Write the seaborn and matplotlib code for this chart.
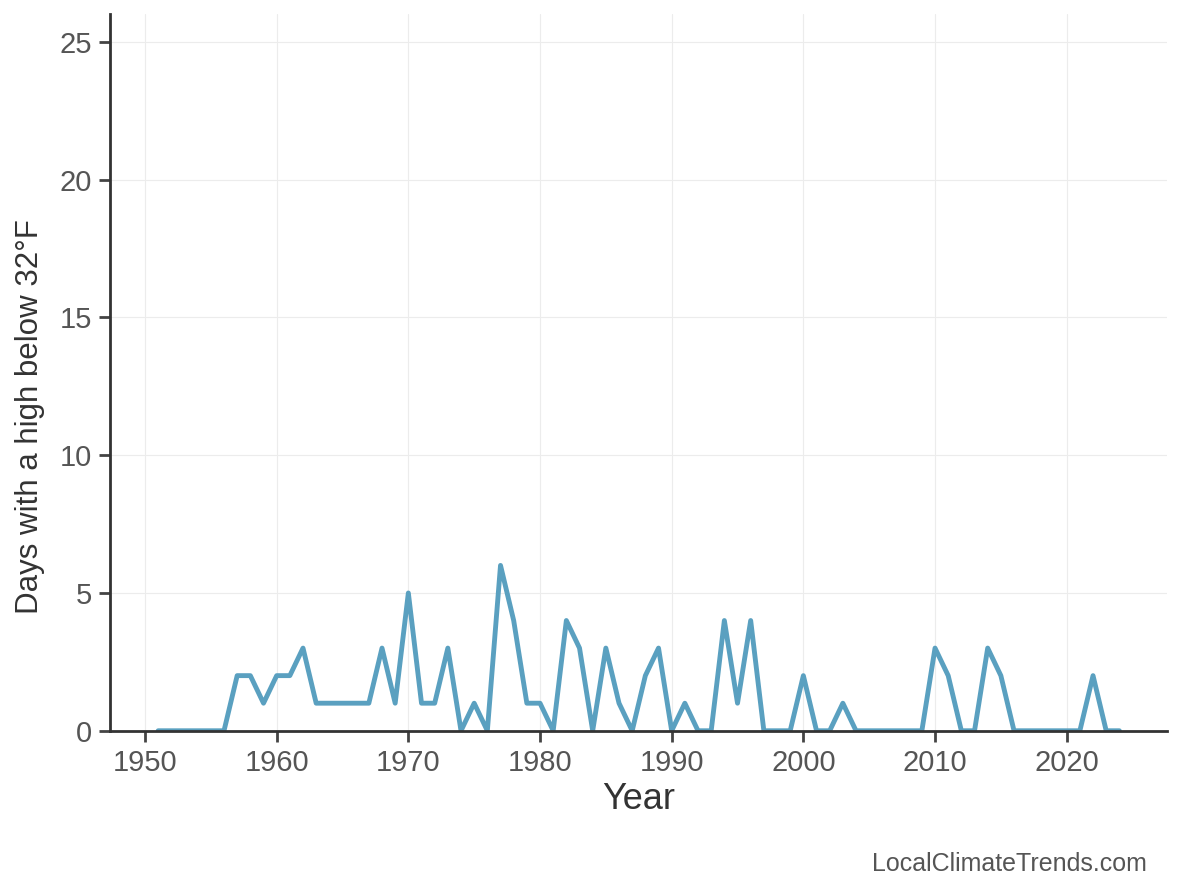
import numpy as np
import pandas as pd
import matplotlib
matplotlib.use('Agg')
import matplotlib.pyplot as plt
import seaborn as sns

# days per year with a high below 32F
years = list(range(1951, 2025))
days = [0, 0, 0, 0, 0, 0, 2, 2, 1,          # 1951-1959
        2, 2, 3, 1, 1, 1, 1, 1, 3, 1,       # 1960s
        5, 1, 1, 3, 0, 1, 0, 6, 4, 1,       # 1970s
        1, 0, 4, 3, 0, 3, 1, 0, 2, 3,       # 1980s
        0, 1, 0, 0, 4, 1, 4, 0, 0, 0,       # 1990s
        2, 0, 0, 1, 0, 0, 0, 0, 0, 0,       # 2000s
        3, 2, 0, 0, 3, 2, 0, 0, 0, 0,       # 2010s
        0, 0, 2, 0, 0]                      # 2020-2024
y_ticks = [0, 5, 10, 15, 20, 25]

df = pd.DataFrame({'Year': years, 'Days': days})

sns.set_theme(style='ticks')
plt.rcParams['font.family'] = ['Liberation Sans', 'DejaVu Sans']

fig, ax = plt.subplots(figsize=(11.84, 8.89), dpi=100)
sns.lineplot(data=df, x='Year', y='Days', color='#5aa0c0', linewidth=3.5, ax=ax)

ax.set_ylim(0, 26)
ax.set_yticks(y_ticks)
ax.grid(True, color='#ececec', linewidth=0.8)
ax.set_axisbelow(True)
sns.despine(ax=ax)
for s in ['left', 'bottom']:
    ax.spines[s].set_color('#333333')
    ax.spines[s].set_linewidth(2.0)
ax.tick_params(axis='both', labelsize=21, colors='#444444', labelcolor='#555555',
               length=8, width=2.0, pad=5)
ax.set_xlabel('Year', fontsize=26, color='#333333', labelpad=4)
ax.set_ylabel('Days with a high below 32°F', fontsize=22.5, color='#333333')
ax.yaxis.set_label_coords(-0.062, 0.438)

fig.text(0.969, 0.015, 'LocalClimateTrends.com', ha='right', va='bottom',
         fontsize=18, color='#555555')
plt.subplots_adjust(left=0.093, right=0.986, top=0.984, bottom=0.178)
plt.savefig('out.png', dpi=100)
